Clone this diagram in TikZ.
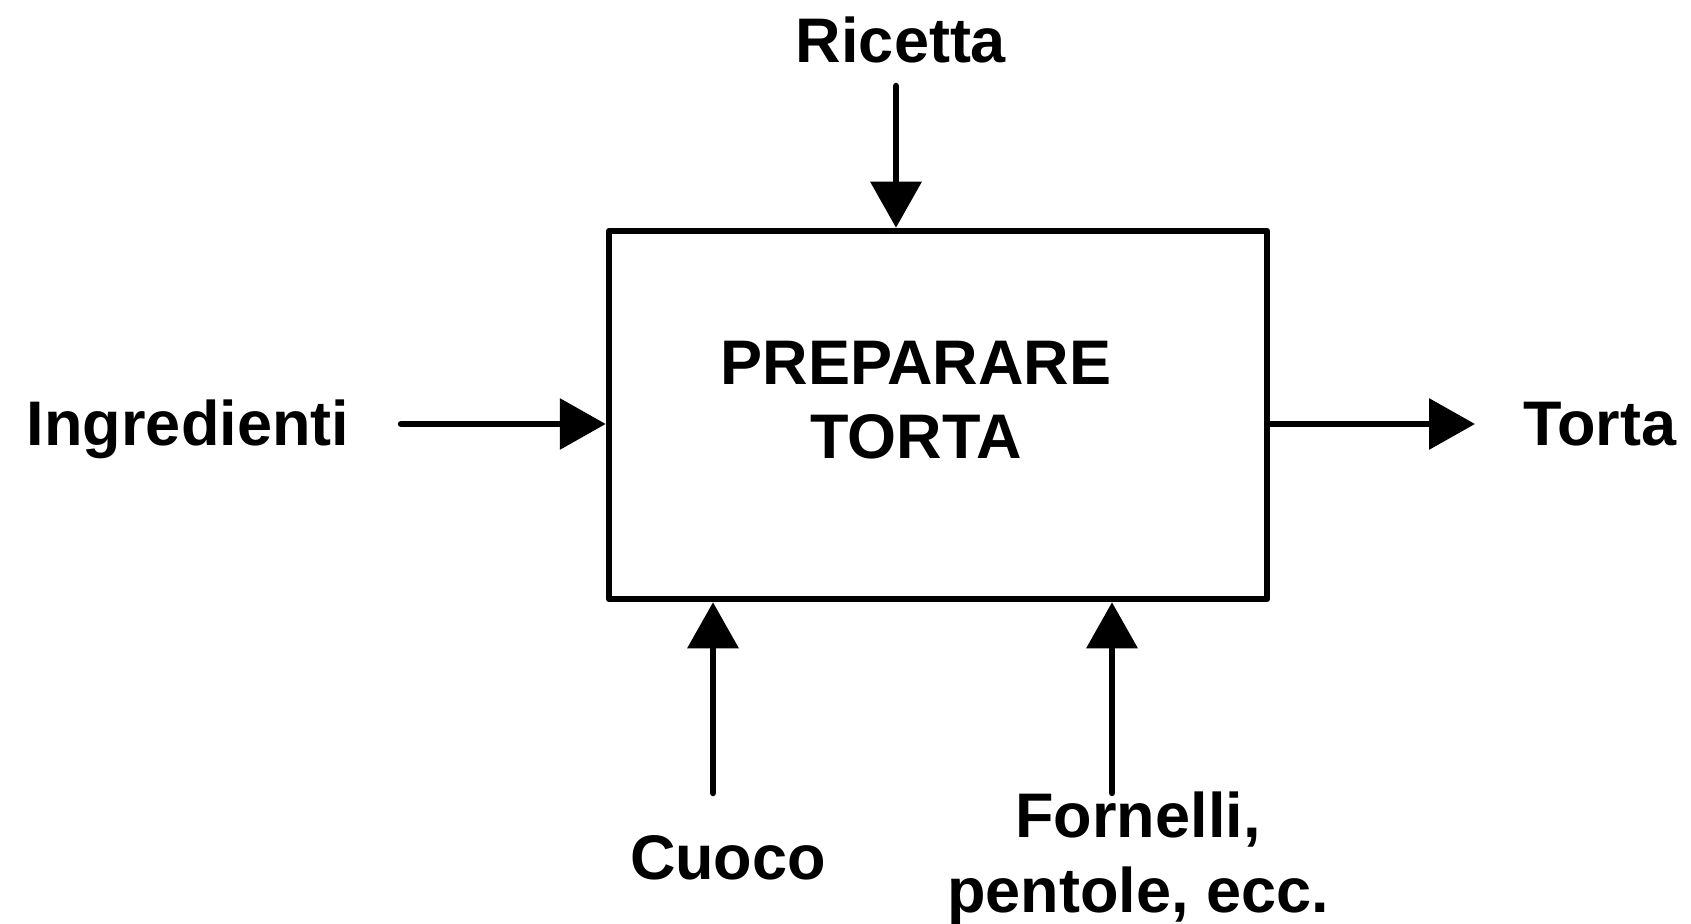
\documentclass[tikz,border=0pt]{standalone}
\usepackage{fontspec}
\setmainfont{Liberation Sans}
\usetikzlibrary{arrows.meta}
\begin{document}
\begin{tikzpicture}[x=0.5pt,y=-0.5pt,
  lbl/.style={inner sep=0pt,font=\fontsize{31.5}{35}\selectfont\bfseries,align=center},
  procbox/.style={draw,line width=3.25pt,line join=round,minimum width=329pt,minimum height=184pt,inner sep=0pt},
  arr/.style={line width=3.25pt,line cap=round,-{Triangle[length=23pt,width=25pt]}}]
\useasboundingbox (0,0) rectangle (1691,924);
\node[procbox] (box) at (938,415) {};
\node[lbl,font=\fontsize{31.5}{37}\selectfont\bfseries] (title) at (916,400) {PREPARARE\\TORTA};
\node[lbl,anchor=base] (ric) at (901,63) {Ricetta};
\node[lbl,anchor=base] (ing) at (188,446) {Ingredienti};
\node[lbl,anchor=base] (tor) at (1600,446) {Torta};
\node[lbl,anchor=base] (cuo) at (728,879) {Cuoco};
\node[lbl,anchor=north,font=\fontsize{31.5}{37.5}\selectfont\bfseries] (forn) at (1138,791) {Fornelli,\\pentole, ecc.};
\coordinate (r0) at (896,86);
\coordinate (i0) at (401,424);
\coordinate (t0) at (1475,424);
\coordinate (c0) at (713,793);
\coordinate (f0) at (1112,793);
\draw[arr] (r0) -- (r0 |- box.north);
\draw[arr] (i0) -- (box.west |- i0);
\draw[arr] (box.east |- t0) -- (t0);
\draw[arr] (c0) -- (c0 |- box.south);
\draw[arr] (f0) -- (f0 |- box.south);
\end{tikzpicture}
\end{document}
